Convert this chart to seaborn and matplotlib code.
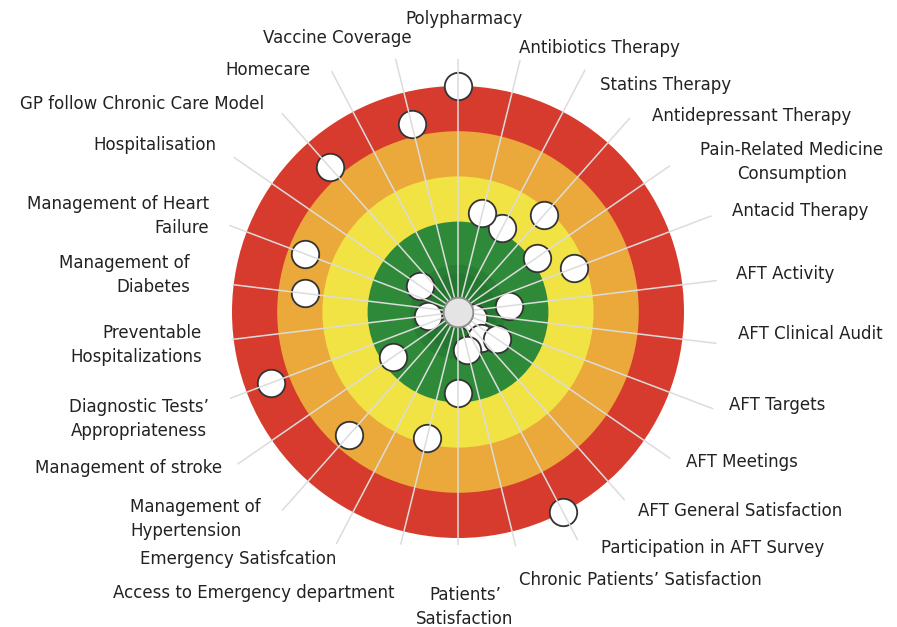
import numpy as np
import pandas as pd
import matplotlib
matplotlib.use('Agg')
import matplotlib.pyplot as plt
import seaborn as sns

# indicators, clockwise from the top
indicators = [
    "Polypharmacy", "Antibiotics Therapy", "Statins Therapy", "Antidepressant Therapy",
    "Pain-Related Medicine\nConsumption", "Antacid Therapy", "AFT Activity", "AFT Clinical Audit",
    "AFT Targets", "AFT Meetings", "AFT General Satisfaction", "Participation in AFT Survey",
    "Chronic Patients\u2019 Satisfaction", "Patients\u2019\nSatisfaction",
    "Access to Emergency department", "Emergency Satisfcation", "Management of\nHypertension",
    "Management of stroke", "Diagnostic Tests\u2019\nAppropriateness", "Preventable\nHospitalizations",
    "Management of\nDiabetes", "Management of Heart\nFailure", "Hospitalisation",
    "GP follow Chronic Care Model", "Homecare", "Vaccine Coverage",
]
# distance from the centre (0 = best, 5 = outer edge of the red band)
scores = [5.0, 2.25, 2.09, 2.88, 2.12, 2.74, 1.13, 0.0, 0.35, 1.05, 0.78, 5.0, 0.86, 1.8,
          2.88, 0.0, 3.63, 1.74, 4.43, 0.66, 3.41, 3.63, 1.03, 4.28, 0.0, 4.28]

# target bands, drawn from the outside in
band_edges = [5, 4, 3, 2]
band_colors = ["#d73b2d", "#eba83b", "#f1e344", "#2e8a38"]

# how far each spoke runs out towards its label
spoke_len = [5.6, 5.74, 6.05, 5.73, 5.7, 6.0, 5.77, 5.76, 6.04, 5.71, 5.56, 5.7, 5.34, 5.15,
             5.3, 5.8, 5.87, 5.93, 5.39, 5.05, 5.0, 5.41, 6.03, 5.88, 6.02, 5.77]

# label anchors in pixels (x, y, horizontal alignment)
label_pos = [
    (464, 19, "center"), (519, 48, "left"), (600, 85, "left"), (652, 116, "left"),
    (792, 162, "center"), (732, 211, "left"), (736, 274, "left"), (738, 334, "left"),
    (729, 405, "left"), (686, 462, "left"), (638, 511, "left"), (601, 548, "left"),
    (519, 580, "left"), (465, 607, "center"), (113, 593, "left"), (140, 559, "left"),
    (130, 519, "left"), (35, 468, "left"), (139, 419, "center"), (202, 345, "right"),
    (190, 275, "right"), (209, 216, "right"), (216, 145, "right"), (264, 104, "right"),
    (310, 70, "right"), (412, 38, "right"),
]

W, H = 897, 627
cx, cy = 458, 312          # centre of the target in pixels
unit = 45.2                # pixels per score unit
rmax = 6.2

df = pd.DataFrame({"indicator": indicators, "score": scores})
df["theta"] = np.arange(len(df)) * 2 * np.pi / len(df)

fig = plt.figure(figsize=(W / 100, H / 100), dpi=100)
rad = rmax * unit
ax = fig.add_axes([(cx - rad) / W, (H - cy - rad) / H, 2 * rad / W, 2 * rad / H], projection="polar")
ax.set_theta_zero_location("N")
ax.set_theta_direction(-1)
ax.set_ylim(0, rmax)
ax.axis("off")

for edge, col in zip(band_edges, band_colors):
    ax.bar(0, edge, width=2 * np.pi, bottom=0, color=col, linewidth=0, zorder=1)
# darker shadow in the middle of the green zone
ax.bar(0, 1.05, width=2 * np.pi, bottom=0, color="#1f6a29", alpha=0.35, linewidth=0, zorder=1)
ax.bar(0, 0.85, width=2 * np.pi, bottom=0, color="#1f6a29", alpha=0.35, linewidth=0, zorder=1)

pts = df[df["score"] > 0].sort_values("score")
sns.scatterplot(data=pts, x="theta", y="score", ax=ax, s=390, color="white",
                edgecolor="#333333", linewidth=1.3, zorder=3, clip_on=False)

ax.vlines(df["theta"], 0, spoke_len, color="#dcdcdc", linewidth=1.1, zorder=4)

hub = df[df["score"] == 0]
sns.scatterplot(data=hub, x="theta", y="score", ax=ax, s=450, color="#e4e4e4",
                edgecolor="#8f8f8f", linewidth=1.2, zorder=5)
ax.set_xlabel("")
ax.set_ylabel("")

for name, (x, y, ha) in zip(indicators, label_pos):
    fig.text(x / W, 1 - y / H, name, ha=ha, va="center", multialignment=ha,
             fontsize=12, color="#222222", linespacing=1.4, family="DejaVu Sans")

fig.savefig("out.png", dpi=100)
